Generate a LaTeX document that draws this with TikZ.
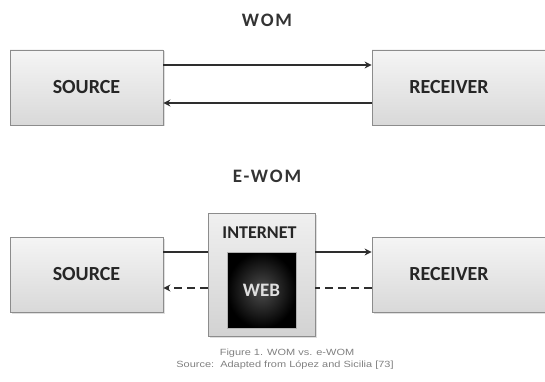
\documentclass[tikz,border=0pt]{standalone}
\usepackage{fontspec}
\setmainfont{Carlito}
\newfontfamily\ttlfont[LetterSpace=10]{Carlito}
\newfontfamily\capfont[FakeStretch=1.22]{Liberation Sans}
\usetikzlibrary{arrows.meta,shadows,positioning}
\definecolor{boxedge}{HTML}{8C8C8C}
\definecolor{arr}{HTML}{2E2E2E}
\tikzset{
  box/.style={draw=boxedge, line width=0.8pt, top color=gray!8, bottom color=gray!30,
     drop shadow={opacity=0.25, shadow xshift=1.5pt, shadow yshift=-1.5pt},
     minimum height=75pt, inner sep=0pt},
  lbl/.style={font=\bfseries\fontsize{20}{24}\selectfont, text=black!85},
  ttl/.style={font=\ttlfont\bfseries\fontsize{19}{23}\selectfont, text=black!80},
  flow/.style={draw=arr, line width=2.2pt, -{Stealth[length=7pt,width=7pt]}},
  flowplain/.style={draw=arr, line width=2.2pt},
  dflow/.style={draw=arr, line width=2.2pt, dash pattern=on 8pt off 5pt},
  captext/.style={font=\capfont\fontsize{9}{11}\selectfont, text=gray, align=center}
}
\begin{document}
\begin{tikzpicture}[x=1pt,y=-1pt]
\useasboundingbox (0,0) rectangle (545,382);
\clip (0,0) rectangle (545,382);
% WOM
\node[ttl] (t1) at (267,20) {WOM};
\node[box, minimum width=153pt, lbl] (s1) at (86.5,87.5) {SOURCE};
\node[box, minimum width=178pt, label={[lbl, xshift=-12pt]center:RECEIVER}] (r1) at (461,87.5) {};
\draw[flow] (s1.east |- 0,65) -- (r1.west |- 0,65);
\draw[flow] (r1.west |- 0,103) -- (s1.east |- 0,103);
% E-WOM
\node[ttl] (t2) at (267,176) {E-WOM};
\node[box, minimum width=153pt, lbl] (s2) at (86.5,274.5) {SOURCE};
\node[box, minimum width=178pt, label={[lbl, xshift=-12pt]center:RECEIVER}] (r2) at (461,274.5) {};
\node[box, minimum width=107pt, minimum height=123pt, top color=gray!12, bottom color=gray!35] (net) at (261.5,274.5) {};
\node[font=\bfseries\fontsize{18}{22}\selectfont, text=black!85] (nett) at (259.5,233) {INTERNET};
\node[draw=gray!60, line width=0.6pt, inner color=gray!60!black, outer color=black, minimum width=69pt, minimum height=76pt,
      font=\bfseries\fontsize{19}{22}\selectfont, text=gray!25] (web) at (261.5,290) {WEB};
\draw[flowplain] (s2.east |- 0,252) -- (net.west |- 0,252);
\draw[flow] (net.east |- 0,252) -- (r2.west |- 0,252);
\draw[dflow] (r2.west |- 0,288) -- (net.east |- 0,288);
\draw[dflow, -{Stealth[length=7pt,width=7pt]}] (net.west |- 0,288) -- (s2.east |- 0,288);
% caption
\node[captext] (c1) at (287,353) {Figure 1. WOM vs. e-WOM};
\node[captext] (c2) at (285,365) {Source:\ \ Adapted from L\'opez and Sicilia [73]};
\end{tikzpicture}
\end{document}
